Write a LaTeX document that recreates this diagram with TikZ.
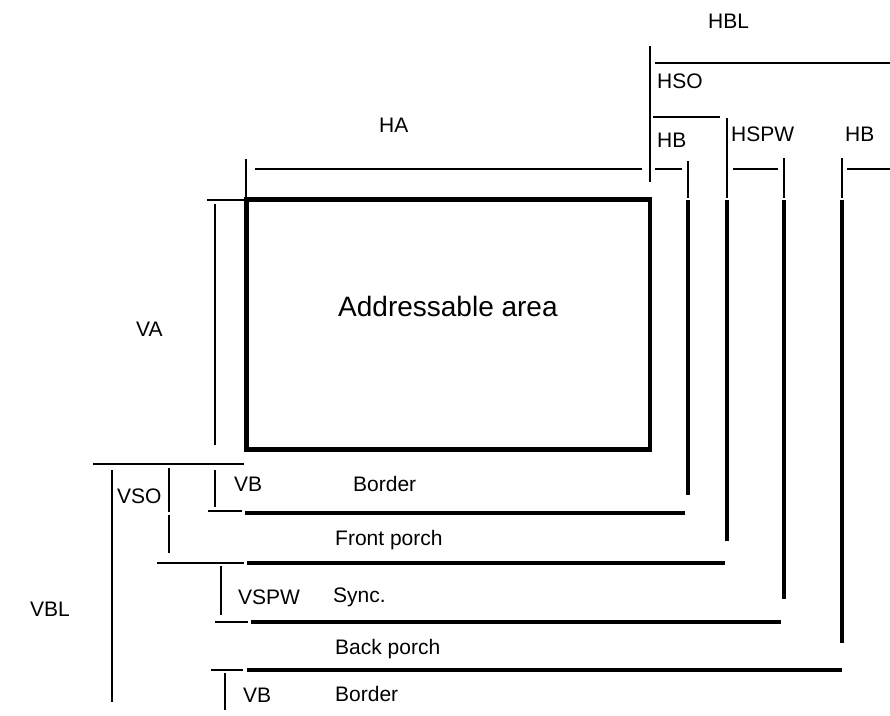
\documentclass[tikz,border=0pt]{standalone}
\usepackage{fontspec}
\setmainfont{Liberation Sans}
\begin{document}
\begin{tikzpicture}[x=1pt, y=-1pt,
        thin line/.style={line width=1.3pt},
        bar/.style={line width=4.7pt},
        lbl/.style={anchor=base west, inner sep=0pt, font=\fontsize{21}{25}\selectfont}]
        \useasboundingbox (0,0) rectangle (890,715);

        % Addressable area
        \draw[line width=4.3pt] (246.5,199.5) rectangle (650,449.5);
        \node[anchor=base west, inner sep=0pt, font=\fontsize{28}{32}\selectfont] (area) at (338,316) {Addressable area};

        % Horizontal timing, top
        \draw[thin line]   ( 246, 159) --     ( 246, 199); % HA
        \draw[thin line]   ( 255, 169) --     ( 642, 169);
        \draw[thin line]   ( 650,  46) --     ( 650, 182);
        \draw[thin line]   ( 655,  63) --     ( 890,  63); % HBL
        \draw[thin line]   ( 653, 117) --     ( 720, 117); % HSO
        \draw[thin line]   ( 655, 169) --     ( 682, 169); % HB
        \draw[thin line]   ( 688, 161) --     ( 688, 198);
        \draw[thin line]   ( 727, 118) --     ( 727, 198); % HSPW
        \draw[thin line]   ( 733, 169) --     ( 778, 169);
        \draw[thin line]   ( 784, 158) --     ( 784, 198);
        \draw[thin line]   ( 842, 158) --     ( 842, 198); % HB
        \draw[thin line]   ( 847, 169) --     ( 890, 169);

        % Vertical bars
        \draw[bar]         ( 688, 200) --     ( 688, 495);
        \draw[bar]         ( 727, 200) --     ( 727, 541);
        \draw[bar]         ( 784, 200) --     ( 784, 599);
        \draw[bar]         ( 842, 200) --     ( 842, 643);

        % Horizontal bars
        \draw[bar]         ( 245, 513) --     ( 685, 513);
        \draw[bar]         ( 247, 563) --     ( 725, 563);
        \draw[bar]         ( 251, 622) --     ( 781, 622);
        \draw[bar]         ( 247, 670) --     ( 842, 670);

        % Vertical timing, left
        \draw[thin line]   ( 207, 200) --     ( 246, 200); % VA
        \draw[thin line]   ( 215, 204) --     ( 215, 445);
        \draw[thin line]   (  93, 464) --     ( 244, 464);
        \draw[thin line]   ( 112, 470) --     ( 112, 702); % VBL
        \draw[thin line]   ( 169, 468) --     ( 169, 512); % VSO
        \draw[thin line]   ( 169, 515) --     ( 169, 553);
        \draw[thin line]   ( 215, 470) --     ( 215, 507); % VB
        \draw[thin line]   ( 208, 511) --     ( 242, 511);
        \draw[thin line]   ( 157, 563) --     ( 244, 563);
        \draw[thin line]   ( 221, 566) --     ( 221, 615); % VSPW
        \draw[thin line]   ( 215, 622) --     ( 248, 622);
        \draw[thin line]   ( 211, 670) --     ( 243, 670);
        \draw[thin line]   ( 225, 673) --     ( 225, 710); % VB

        % Labels
        \node[lbl] (hbl)    at ( 708,  28) {HBL};
        \node[lbl] (hso)    at ( 657,  88) {HSO};
        \node[lbl] (ha)     at ( 379, 132) {HA};
        \node[lbl] (hbone)  at ( 657, 147) {HB};
        \node[lbl] (hspw)   at ( 731, 141) {HSPW};
        \node[lbl] (hbtwo)  at ( 845, 141) {HB};
        \node[lbl] (va)     at ( 136, 336) {VA};
        \node[lbl] (vso)    at ( 117, 503) {VSO};
        \node[lbl] (vbone)  at ( 234, 491) {VB};
        \node[lbl] (vbl)    at (  30, 616) {VBL};
        \node[lbl] (vspw)   at ( 238, 604) {VSPW};
        \node[lbl] (vbtwo)  at ( 243, 702) {VB};
        \node[lbl] (border) at ( 353, 491) {Border};
        \node[lbl] (front)  at ( 335, 545) {Front porch};
        \node[lbl] (sync)   at ( 333, 602) {Sync.};
        \node[lbl] (back)   at ( 335, 654) {Back porch};
        \node[lbl] (bordertwo) at ( 335, 701) {Border};
\end{tikzpicture}
\end{document}
